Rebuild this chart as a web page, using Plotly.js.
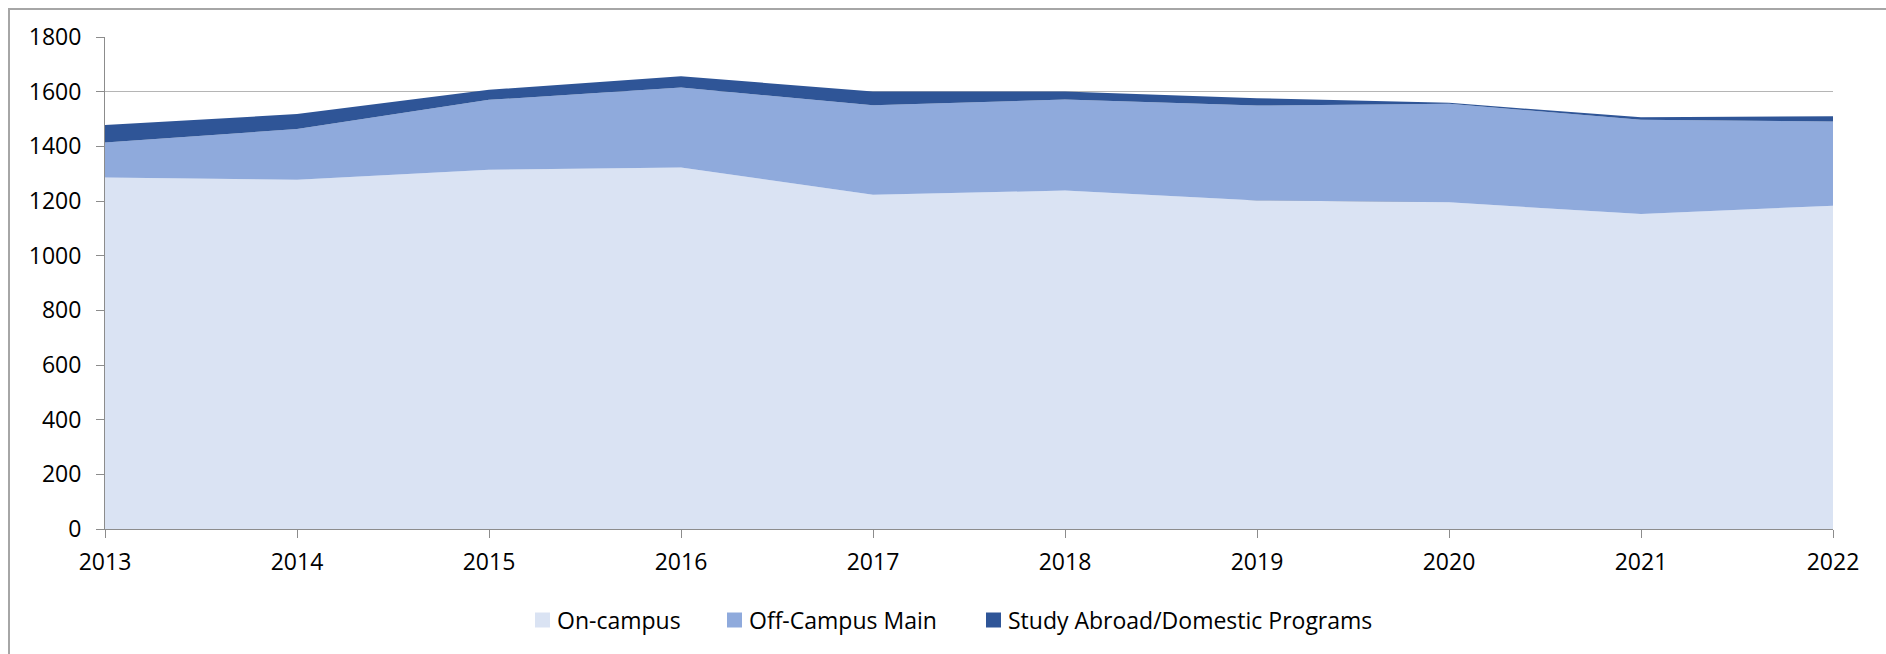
<!DOCTYPE html>
<html>
<head>
<meta charset="utf-8">
<script src="https://cdn.plot.ly/plotly-3.0.1.min.js"></script>
<style>
  html, body { margin: 0; padding: 0; background: #fff; }
  #wrap { position: relative; width: 1886px; height: 654px; overflow: hidden; }
  #frame { position: absolute; left: 8px; top: 8px; width: 1900px; height: 700px;
           border-top: 2px solid #a6a6a6; border-left: 2px solid #a6a6a6; box-sizing: border-box; }
  #chart { position: absolute; left: 0; top: 0; width: 1886px; height: 654px; }
</style>
</head>
<body>
<div id="wrap">
  <div id="frame"></div>
  <div id="chart"></div>
</div>
<script>
const years = [2013, 2014, 2015, 2016, 2017, 2018, 2019, 2020, 2021, 2022];
const onCampus = [1286, 1278, 1314, 1323, 1223, 1238, 1202, 1195, 1152, 1183];
const offCampusMain = [128, 185, 256, 292, 327, 333, 347, 361, 345, 308];
const studyAbroad = [64, 55, 37, 41, 51, 30, 27, 3, 9, 19];
const seriesNames = ["On-campus", "Off-Campus Main", "Study Abroad/Domestic Programs"];
const seriesColors = ["#DAE3F3", "#8FAADC", "#2F5597"];
const yTicks = [0, 200, 400, 600, 800, 1000, 1200, 1400, 1600, 1800];

const W = 1886, H = 654;
const M = { l: 105, r: 53, t: 37, b: 125 };
const plotW = W - M.l - M.r, plotH = H - M.t - M.b;
const FONT = "'Open Sans', 'Liberation Sans', sans-serif";

const seriesValues = [onCampus, offCampusMain, studyAbroad];
const traces = seriesValues.map((vals, i) => ({
  x: years,
  y: vals,
  name: seriesNames[i],
  type: "scatter",
  mode: "lines",
  stackgroup: "one",
  line: { width: 0, color: seriesColors[i] },
  fillcolor: seriesColors[i],
  showlegend: false
}));

// Custom legend (square swatches), laid out in pixel space and converted to paper coords
const legendSwatchLeft = [535, 727, 986];
const legendCenterY = 620;
const sw = 15;
const px2x = p => (p - M.l) / plotW;
const px2y = p => (H - M.b - p) / plotH;
const shapes = [];
const annotations = [];
seriesNames.forEach((name, i) => {
  const x0 = legendSwatchLeft[i];
  shapes.push({
    type: "rect", xref: "paper", yref: "paper",
    x0: px2x(x0), x1: px2x(x0 + sw),
    y0: px2y(legendCenterY + sw / 2), y1: px2y(legendCenterY - sw / 2),
    fillcolor: seriesColors[i], line: { width: 0 }
  });
  annotations.push({
    xref: "paper", yref: "paper",
    x: px2x(x0 + sw + 5), y: px2y(legendCenterY),
    xanchor: "left", yanchor: "middle",
    text: name, showarrow: false,
    font: { family: FONT, size: 23, color: "#000" }
  });
});

const layout = {
  width: W,
  height: H,
  paper_bgcolor: "rgba(0,0,0,0)",
  plot_bgcolor: "rgba(0,0,0,0)",
  margin: M,
  font: { family: FONT, size: 23, color: "#000" },
  showlegend: false,
  shapes: shapes,
  annotations: annotations,
  xaxis: {
    type: "linear",
    range: [2013, 2022],
    tickvals: years,
    ticktext: years.map(String),
    showgrid: false,
    zeroline: false,
    showline: true,
    linecolor: "#8c8c8c",
    linewidth: 1,
    ticks: "outside",
    ticklen: 8,
    tickcolor: "#8c8c8c",
    tickfont: { size: 23 },
    ticklabelstandoff: 4
  },
  yaxis: {
    range: [0, 1800],
    tickvals: yTicks,
    showgrid: true,
    gridcolor: "#b5b5b5",
    gridwidth: 1.5,
    zeroline: false,
    showline: true,
    linecolor: "#8c8c8c",
    linewidth: 1,
    ticks: "outside",
    ticklen: 8,
    tickcolor: "#8c8c8c",
    tickfont: { size: 23 },
    ticklabelstandoff: 10,
    layer: "below traces"
  }
};

Plotly.newPlot("chart", traces, layout, { displayModeBar: false, staticPlot: true });
</script>
</body>
</html>
